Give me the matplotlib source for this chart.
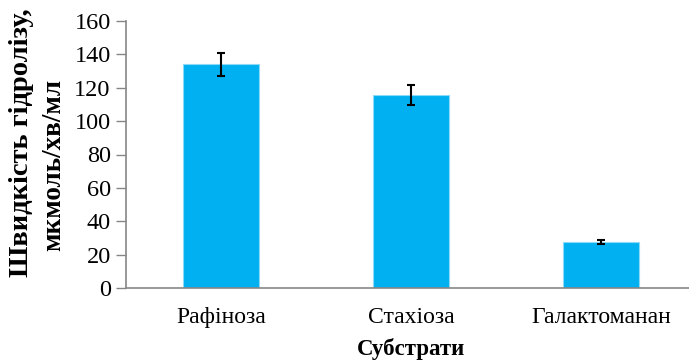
import numpy as np
import matplotlib.pyplot as plt

plt.rcParams['font.family'] = ['Liberation Serif', 'DejaVu Serif']

# субстрати та швидкість гідролізу
substrates = ['Рафіноза', 'Стахіоза', 'Галактоманан']
rates = [134, 115.5, 27.5]
errors = [7, 6, 1.4]

fig = plt.figure(figsize=(6.89, 3.63), dpi=100)
ax = fig.add_axes([126 / 689, 75 / 363, 570 / 689, 267 / 363])

x = np.arange(len(substrates))
ax.bar(x, rates, width=0.4, color='#00B0F0', edgecolor='#8CDAF7', linewidth=0.8, zorder=2)
ax.errorbar(x, rates, yerr=errors, fmt='none', ecolor='black', elinewidth=1.5,
            capsize=3.2, capthick=1.5, zorder=3)

ax.set_xlim(-0.5, 2.5)
ax.set_ylim(0, 160)
ax.set_yticks(np.arange(0, 161, 20))
ax.set_xticks(x)
ax.set_xticklabels(substrates, fontsize=17)
ax.tick_params(axis='y', labelsize=17.5, direction='out', length=7, width=1, color='#868686', pad=4)
ax.tick_params(axis='x', length=0, pad=14)

for side in ['top', 'right']:
    ax.spines[side].set_visible(False)
for side in ['left', 'bottom']:
    ax.spines[side].set_color('#868686')
    ax.spines[side].set_linewidth(1.2)

fig.text(411 / 689, 1 - 349 / 363, 'Субстрати', fontsize=16.5, fontweight='bold',
         ha='center', va='center')
fig.text(22 / 689, 1 - 143 / 363, 'Швидкість гідролізу,', fontsize=20.5, fontweight='bold',
         rotation=90, ha='center', va='center')
fig.text(54 / 689, 1 - 165 / 363, 'мкмоль/хв/мл', fontsize=19.5, fontweight='bold',
         rotation=90, ha='center', va='center')

fig.savefig('out.png', dpi=100)
